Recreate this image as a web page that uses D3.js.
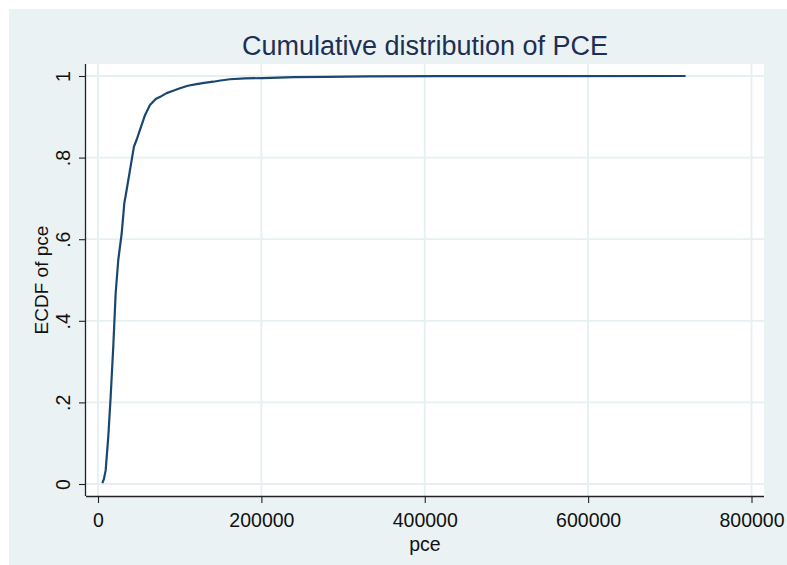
<!DOCTYPE html>
<html>
<head>
<meta charset="utf-8">
<script src="https://cdn.jsdelivr.net/npm/d3@7"></script>
<style>
  body { margin: 0; background: #ffffff; }
  text { font-family: "Liberation Sans", Arial, sans-serif; }
</style>
</head>
<body>
<div id="chart"></div>
<script>
// ECDF of pce
var pceValues = [5300, 7200, 9400, 12600, 15500, 18700, 21600, 24800, 29000, 32200, 35000,
                 39200, 44000, 47500, 51400, 57500, 63600, 71000, 77000, 84000, 92000, 100300,
                 110000, 120700, 130000, 141000, 150000, 161500, 180000, 202000, 240000, 280000,
                 330000, 420000, 560000, 719300];
var ecdfValues = [0.002, 0.012, 0.034, 0.116, 0.214, 0.337, 0.467, 0.549, 0.614, 0.688, 0.72,
                  0.770, 0.827, 0.845, 0.868, 0.904, 0.929, 0.944, 0.950, 0.958, 0.964, 0.970,
                  0.976, 0.980, 0.983, 0.986, 0.989, 0.992, 0.994, 0.995, 0.997, 0.998,
                  0.999, 0.9995, 0.9998, 1.0];
var xTicks = [0, 200000, 400000, 600000, 800000];
var yTicks = [0, 0.2, 0.4, 0.6, 0.8, 1];
var yTickLabels = ["0", ".2", ".4", ".6", ".8", "1"];
var titleText = "Cumulative distribution of PCE";
var xTitle = "pce";
var yTitle = "ECDF of pce";

var W = 787, H = 565;
var plot = {left: 86, right: 764, top: 64, bottom: 496};

var x = d3.scaleLinear().domain([0, 800000]).range([98, 751.5]);
var y = d3.scaleLinear().domain([0, 1]).range([484, 76]);

var svg = d3.select("#chart").append("svg")
    .attr("width", W)
    .attr("height", H);

// outer graph region
svg.append("rect")
    .attr("x", 9).attr("y", 9)
    .attr("width", W - 9).attr("height", H - 9)
    .attr("fill", "#eaf2f3");

// plot region
svg.append("rect")
    .attr("x", plot.left).attr("y", plot.top)
    .attr("width", plot.right - plot.left).attr("height", plot.bottom - plot.top)
    .attr("fill", "#ffffff");

// gridlines
svg.append("g").selectAll("line")
    .data(xTicks)
    .enter().append("line")
    .attr("x1", function(d) { return x(d); })
    .attr("x2", function(d) { return x(d); })
    .attr("y1", plot.top).attr("y2", plot.bottom)
    .attr("stroke", "#e6eff1")
    .attr("stroke-width", 1.8);
svg.append("g").selectAll("line")
    .data(yTicks)
    .enter().append("line")
    .attr("y1", function(d) { return y(d); })
    .attr("y2", function(d) { return y(d); })
    .attr("x1", plot.left).attr("x2", plot.right)
    .attr("stroke", "#e6eff1")
    .attr("stroke-width", 1.8);

// ecdf line
var pts = pceValues.map(function(v, i) { return [v, ecdfValues[i]]; });
var line = d3.line()
    .x(function(d) { return x(d[0]); })
    .y(function(d) { return y(d[1]); });
svg.append("path")
    .datum(pts)
    .attr("d", line)
    .attr("fill", "none")
    .attr("stroke", "#1a476f")
    .attr("stroke-width", 2.2)
    .attr("stroke-linejoin", "round");

// axes
var xAxis = svg.append("g")
    .attr("transform", "translate(0," + plot.bottom + ")")
    .call(d3.axisBottom(x).tickValues(xTicks).tickSize(7).tickPadding(5)
          .tickFormat(d3.format("d")));
xAxis.select(".domain").attr("d", "M" + plot.left + ",0.5H" + plot.right);
var yAxis = svg.append("g")
    .attr("transform", "translate(" + plot.left + ",0)")
    .call(d3.axisLeft(y).tickValues(yTicks).tickSize(7)
          .tickFormat(function(d, i) { return yTickLabels[i]; }));
yAxis.select(".domain").attr("d", "M-0.5," + plot.top + "V" + plot.bottom);

svg.selectAll(".domain").attr("stroke", "#222").attr("stroke-width", 1.3);
svg.selectAll(".tick line").attr("stroke", "#222").attr("stroke-width", 1.1);
svg.selectAll(".tick text")
    .attr("font-family", "Liberation Sans, Arial, sans-serif")
    .attr("font-size", "19.5px")
    .attr("fill", "#111");

xAxis.selectAll(".tick text").attr("dy", null).attr("y", 31);
yAxis.selectAll(".tick text")
    .attr("x", null).attr("dy", null)
    .attr("text-anchor", "middle")
    .attr("transform", "translate(-16,0) rotate(-90)");

// titles
svg.append("text")
    .attr("x", (plot.left + plot.right) / 2)
    .attr("y", 55)
    .attr("text-anchor", "middle")
    .style("font-size", "27px")
    .style("fill", "#1e2f55")
    .text(titleText);
svg.append("text")
    .attr("x", (plot.left + plot.right) / 2)
    .attr("y", 551)
    .attr("text-anchor", "middle")
    .style("font-size", "19.5px")
    .style("fill", "#111")
    .text(xTitle);
svg.append("text")
    .attr("transform", "translate(48," + ((plot.top + plot.bottom) / 2) + ") rotate(-90)")
    .attr("text-anchor", "middle")
    .style("font-size", "19px")
    .style("fill", "#111")
    .text(yTitle);
</script>
</body>
</html>
